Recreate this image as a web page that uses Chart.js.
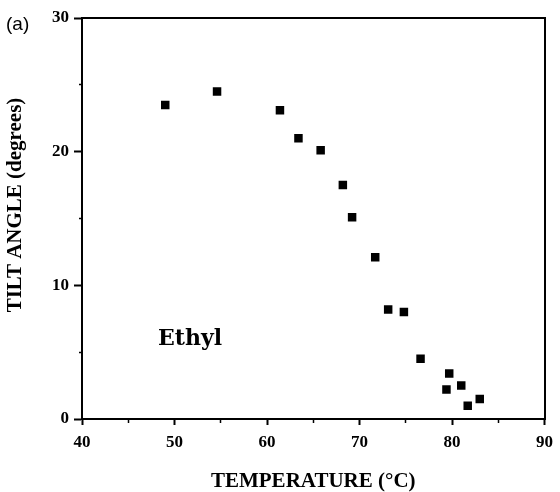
<!DOCTYPE html>
<html>
<head>
<meta charset="utf-8">
<script src="https://cdn.jsdelivr.net/npm/chart.js@4/dist/chart.umd.min.js"></script>
<style>
  html, body { margin: 0; padding: 0; background: #fff; }
  canvas { display: block; }
</style>
</head>
<body>
<canvas id="tiltChart" width="560" height="492"></canvas>
<script>
const temperature = [49.0, 54.6, 61.4, 63.4, 65.8, 68.2, 69.2, 71.7, 73.1, 74.8, 76.6, 79.7, 79.4, 81.0, 81.7, 83.0];
const tiltAngle = [23.5, 24.5, 23.1, 21.0, 20.1, 17.5, 15.1, 12.1, 8.2, 8.0, 4.5, 3.4, 2.2, 2.5, 1.0, 1.5];

const xRange = [40, 90];
const yRange = [0, 30];

const panelLabel = "(a)";
const seriesLabel = "Ethyl";
const xTitle = "TEMPERATURE (°C)";
const yTitle = "TILT ANGLE (degrees)";

const serif = "'Liberation Serif', 'Times New Roman', serif";
const isMajor = (value) => value % 10 === 0;

// text that sits outside the axis boxes: panel tag, series tag, y title
const annotations = {
  id: "annotations",
  afterDraw(chart) {
    const ctx = chart.ctx;
    ctx.save();
    ctx.fillStyle = "#000";

    ctx.font = "19px 'Liberation Sans', Arial, sans-serif";
    ctx.textAlign = "left";
    ctx.textBaseline = "alphabetic";
    ctx.fillText(panelLabel, 6, 30);

    ctx.font = "bold 22px 'DejaVu Serif', serif";
    ctx.fillText(seriesLabel, 158, 345);

    ctx.translate(16, 205);
    ctx.rotate(-Math.PI / 2);
    ctx.font = `bold 21px ${serif}`;
    ctx.textAlign = "center";
    ctx.textBaseline = "middle";
    ctx.fillText(yTitle, 0, 0);
    ctx.restore();
  },
};

const frameAxis = (position) => ({
  type: "linear",
  position,
  min: position === "top" ? xRange[0] : yRange[0],
  max: position === "top" ? xRange[1] : yRange[1],
  ticks: { display: false },
  grid: { drawOnChartArea: false, drawTicks: false },
  border: { display: true, color: "#000", width: 2 },
  afterFit(scale) {
    if (position === "top") scale.height = 0;
    else scale.width = 0;
  },
});

new Chart(document.querySelector("#tiltChart"), {
  type: "scatter",
  data: {
    datasets: [{
      label: seriesLabel,
      data: temperature.map((t, i) => ({ x: t, y: tiltAngle[i] })),
      pointStyle: "rect",
      pointRadius: 6,
      pointHoverRadius: 6,
      backgroundColor: "#000",
      borderWidth: 0,
    }],
  },
  options: {
    responsive: false,
    animation: false,
    events: [],
    layout: { padding: { top: 18, right: 13, left: 0, bottom: 0 } },
    plugins: {
      legend: { display: false },
      tooltip: { enabled: false },
    },
    scales: {
      x: {
        type: "linear",
        position: "bottom",
        min: xRange[0],
        max: xRange[1],
        afterFit(scale) { scale.height = 73; },
        ticks: {
          stepSize: 5,
          autoSkip: false,
          maxRotation: 0,
          padding: 7,
          color: "#000",
          font: { family: serif, size: 17, weight: "bold" },
          callback: (value) => (isMajor(value) ? String(value) : ""),
        },
        grid: {
          drawOnChartArea: false,
          tickLength: 6,
          tickColor: "#000",
          tickWidth: (ctx) => (isMajor(ctx.tick.value) ? 2 : 1.5),
          tickBorderDash: (ctx) => (isMajor(ctx.tick.value) ? [] : [3, 100]),
        },
        border: { display: true, color: "#000", width: 2 },
        title: {
          display: true,
          text: xTitle,
          color: "#000",
          padding: 0,
          font: { family: serif, size: 21, weight: "bold", lineHeight: 1 },
        },
      },
      y: {
        type: "linear",
        position: "left",
        min: yRange[0],
        max: yRange[1],
        afterFit(scale) { scale.width = 82; },
        ticks: {
          stepSize: 5,
          autoSkip: false,
          padding: 5,
          color: "#000",
          font: { family: serif, size: 17, weight: "bold" },
          callback: (value) => (isMajor(value) ? String(value) : ""),
        },
        grid: {
          drawOnChartArea: false,
          tickLength: 8,
          tickColor: "#000",
          tickWidth: (ctx) => (isMajor(ctx.tick.value) ? 2 : 1.5),
          tickBorderDash: (ctx) => (isMajor(ctx.tick.value) ? [] : [0, 5, 3, 0]),
        },
        border: { display: true, color: "#000", width: 2 },
      },
      x2: frameAxis("top"),
      y2: frameAxis("right"),
    },
  },
  plugins: [annotations],
});
</script>
</body>
</html>
